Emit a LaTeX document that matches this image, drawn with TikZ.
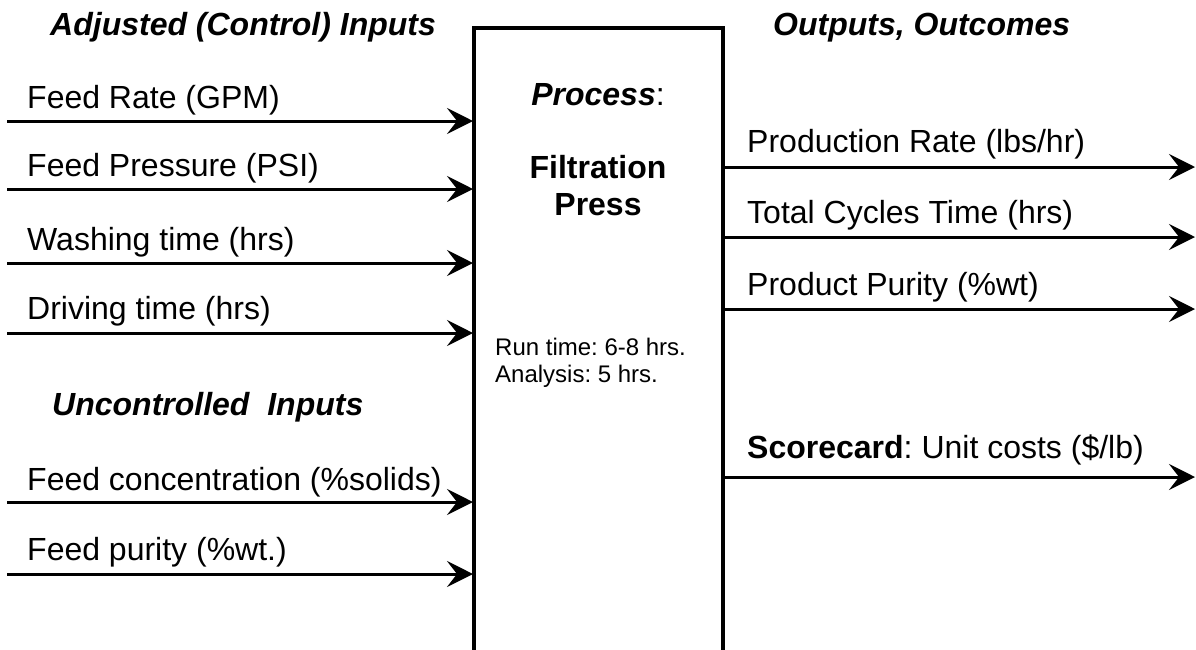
\documentclass[tikz,border=0pt]{standalone}
\usepackage{fontspec}
\setmainfont{Liberation Sans}
\usetikzlibrary{arrows.meta}
\frenchspacing
\begin{document}
\begin{tikzpicture}[x=1pt,y=-1pt,
  txt/.style={inner sep=0pt,anchor=base west,font=\fontsize{32}{38}\selectfont},
  head/.style={inner sep=0pt,anchor=base west,font=\fontsize{32}{38}\selectfont\bfseries\itshape},
  small/.style={inner sep=0pt,anchor=base west,font=\fontsize{24}{28}\selectfont},
  ptxt/.style={inner sep=0pt,anchor=base,font=\fontsize{32}{38}\selectfont},
  flow/.style={line width=3pt,-{Stealth[length=26pt,width=26pt,inset=10pt]}},
  boxline/.style={line width=3.5pt}]
\useasboundingbox (0,0) rectangle (1196,649);
% process box (open at the bottom)
\coordinate (bl) at (474,660);
\coordinate (tl) at (474,28);
\coordinate (tr) at (723,28);
\coordinate (br) at (723,660);
\draw[boxline] (bl) -- (tl) -- (tr) -- (br);
% headings
\node[head] (h1) at (50,35) {Adjusted (Control) Inputs};
\node[head] (h2) at (773,35) {Outputs, Outcomes};
\node[head] (h3) at (52,415) {Uncontrolled\ \ Inputs};
% process text
\node[ptxt] (p1) at (598,105) {\textbf{\textit{Process}}:};
\node[ptxt,font=\fontsize{32}{38}\selectfont\bfseries] (p2) at (598,178) {Filtration};
\node[ptxt,font=\fontsize{32}{38}\selectfont\bfseries] (p3) at (598,215) {Press};
\node[small] (r1) at (495,355) {Run time: 6-8 hrs.};
\node[small] (r2) at (495,382) {Analysis: 5 hrs.};
% inputs
\foreach \n/\b/\y/\t in {a/108/121/{Feed Rate (GPM)},b/176/189/{Feed Pressure (PSI)},c/250/263/{Washing time (hrs)},d/319/333/{Driving time (hrs)},e/490/502/{Feed concentration (\%solids)},f/560/574/{Feed purity (\%wt.)}}{
  \node[txt] (t\n) at (27,\b) {\t};
  \coordinate (s\n) at (7,\y);
  \coordinate (e\n) at (473,\y);
  \draw[flow] (s\n) -- (e\n);
}
% outputs
\foreach \n/\b/\y/\t in {g/152/167/{Production Rate (lbs/hr)},h/223/237/{Total Cycles Time (hrs)},i/295/309/{Product Purity (\%wt)},j/458/477/{\textbf{Scorecard}: Unit costs (\$/lb)}}{
  \node[txt] (t\n) at (747,\b) {\t};
  \coordinate (s\n) at (725,\y);
  \coordinate (e\n) at (1195,\y);
  \draw[flow] (s\n) -- (e\n);
}
\end{tikzpicture}
\end{document}
